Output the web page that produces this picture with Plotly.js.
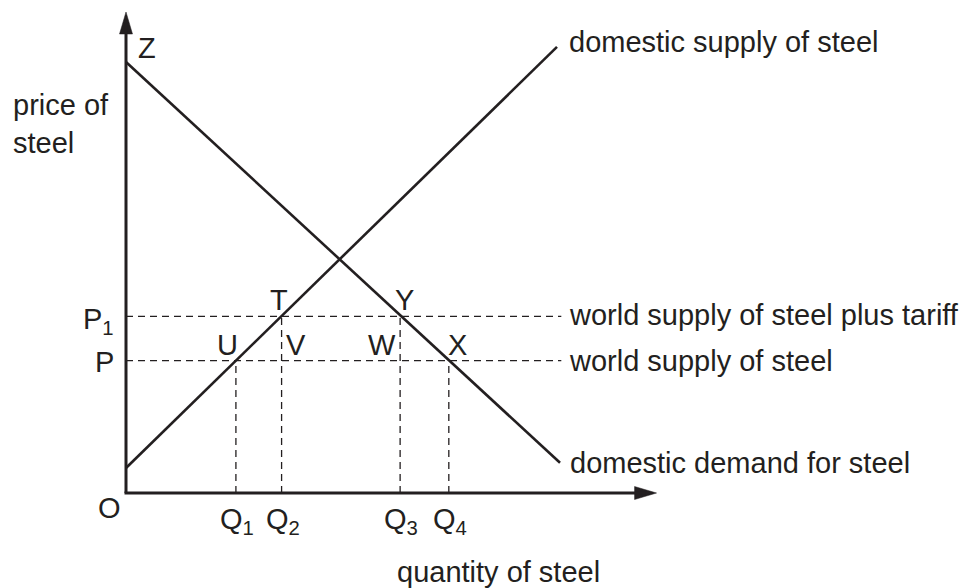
<!DOCTYPE html>
<html><head><meta charset="utf-8">
<script src="https://cdn.plot.ly/plotly-3.0.1.min.js"></script>
<style>html,body{margin:0;padding:0;background:#fff}</style>
</head><body><div id="chart" style="width:964px;height:588px"></div>
<script>
// ---- data (economic units) ----
const supplyQ = [0, 10];
const supplyP = [0.58, 10.35];
const demandQ = [0, 10.07];
const demandP = [10, 0.70];
const priceLevels = [3.07, 4.10];              // P, P1
const priceLabels = ['P', 'P<sub>1</sub>'];
const quantities = [2.55, 3.61, 6.36, 7.49];   // Q1..Q4
const quantityLabels = ['Q<sub>1</sub>', 'Q<sub>2</sub>', 'Q<sub>3</sub>', 'Q<sub>4</sub>'];
const pointLabels = ['U', 'V', 'W', 'X', 'T', 'Y'];
const lineLabels = ['domestic supply of steel', 'world supply of steel plus tariff', 'world supply of steel', 'domestic demand for steel'];
const axisLabels = ['price of<br>steel', 'quantity of steel', 'O', 'Z'];
const axisMax = [12.31, 11.16];  // x tip, y tip
const worldLineEnd = 10.1;

// ---- styling / geometry ----
const INK = '#231f20';
const FONT = 'Liberation Sans, Arial, Helvetica, sans-serif';
const FS = 29;
const PX = 43.1;   // pixels per unit (same on both axes)
const W = 964, H = 588, OX = 126, OY = 493;

const arrowLen = 22 / PX, arrowHalf = 6.5 / PX;

const traces = [
  {x: supplyQ, y: supplyP, mode: 'lines', line: {color: INK, width: 2.6}, hoverinfo: 'skip'},
  {x: demandQ, y: demandP, mode: 'lines', line: {color: INK, width: 2.6}, hoverinfo: 'skip'},
  // y-axis arrowhead
  {x: [-arrowHalf, 0, arrowHalf, -arrowHalf],
   y: [axisMax[1] - arrowLen, axisMax[1], axisMax[1] - arrowLen, axisMax[1] - arrowLen],
   mode: 'lines', fill: 'toself', fillcolor: INK, line: {color: INK, width: 0.5}, hoverinfo: 'skip'},
  // x-axis arrowhead
  {x: [axisMax[0] - arrowLen, axisMax[0], axisMax[0] - arrowLen, axisMax[0] - arrowLen],
   y: [-arrowHalf, 0, arrowHalf, -arrowHalf],
   mode: 'lines', fill: 'toself', fillcolor: INK, line: {color: INK, width: 0.5}, hoverinfo: 'skip'}
];

const shapes = [];
// axes
shapes.push({type: 'line', xref: 'x', yref: 'y', x0: -1.5 / PX, y0: 0, x1: axisMax[0] - arrowLen / 2, y1: 0, line: {color: INK, width: 3}});
shapes.push({type: 'line', xref: 'x', yref: 'y', x0: 0, y0: 0, x1: 0, y1: axisMax[1] - arrowLen / 2, line: {color: INK, width: 3}});
// horizontal dashed price lines
priceLevels.forEach(p => shapes.push({type: 'line', xref: 'x', yref: 'y', x0: 0, y0: p, x1: worldLineEnd, y1: p,
  line: {color: INK, width: 1.3, dash: '7px,5px'}}));
// vertical dashed quantity lines (Q1,Q4 from P; Q2,Q3 from P1)
const qTop = [priceLevels[0], priceLevels[1], priceLevels[1], priceLevels[0]];
quantities.forEach((q, i) => shapes.push({type: 'line', xref: 'x', yref: 'y', x0: q, y0: 0, x1: q, y1: qTop[i],
  line: {color: INK, width: 1.3, dash: '7px,5px'}}));

const ann = [];
function A(o) { ann.push(Object.assign({showarrow: false, font: {family: FONT, size: FS, color: INK}, borderpad: 0,
  xref: 'x', yref: 'y'}, o)); }

// point labels
const ptQ = [quantities[0], quantities[1], quantities[2], quantities[3], quantities[1], quantities[2]];
const ptP = [priceLevels[0], priceLevels[0], priceLevels[0], priceLevels[0], priceLevels[1], priceLevels[1]];
const ptDx = [-8, 14, -18, 9, -3, 4];
pointLabels.forEach((t, i) => A({text: t, x: ptQ[i], y: ptP[i], xanchor: 'center', yanchor: 'middle', xshift: ptDx[i], yshift: 16}));

// quantity labels
quantities.forEach((q, i) => A({text: quantityLabels[i], x: q, y: 0, xanchor: 'center', yanchor: 'top', xshift: 1, yshift: -9}));
// price labels
priceLevels.forEach((p, i) => A({text: priceLabels[i], x: 0, y: p, xanchor: 'right', yanchor: 'middle', xshift: -11, yshift: i === 1 ? -5 : -1}));

// origin and Z
A({text: axisLabels[2], x: 0, y: 0, xanchor: 'center', yanchor: 'middle', xshift: -17, yshift: -15});
A({text: axisLabels[3], x: 0, y: demandP[0], xanchor: 'left', yanchor: 'middle', xshift: 11, yshift: 14});

// line labels on the right
A({text: lineLabels[0], x: supplyQ[1], y: supplyP[1], xanchor: 'left', yanchor: 'middle', xshift: 11, yshift: 5});
A({text: lineLabels[1], x: worldLineEnd, y: priceLevels[1], xanchor: 'left', yanchor: 'middle', xshift: 7, yshift: 1});
A({text: lineLabels[2], x: worldLineEnd, y: priceLevels[0], xanchor: 'left', yanchor: 'middle', xshift: 7, yshift: 0});
A({text: lineLabels[3], x: demandQ[1], y: demandP[1], xanchor: 'left', yanchor: 'middle', xshift: 9, yshift: 0});

// axis titles
ann.push({text: axisLabels[0], xref: 'paper', yref: 'paper', x: 12 / W, y: 1 - 124 / H, xanchor: 'left', yanchor: 'middle',
  align: 'left', showarrow: false, borderpad: 0, font: {family: FONT, size: FS, color: INK}});
ann.push({text: axisLabels[1], xref: 'paper', yref: 'paper', x: 498 / W, y: 1 - 572 / H, xanchor: 'center', yanchor: 'middle',
  showarrow: false, borderpad: 0, font: {family: FONT, size: FS, color: INK}});

const layout = {
  width: W, height: H,
  margin: {l: 0, r: 0, t: 0, b: 0, pad: 0},
  paper_bgcolor: '#ffffff', plot_bgcolor: '#ffffff',
  showlegend: false,
  xaxis: {range: [-OX / PX, (W - OX) / PX], visible: false, fixedrange: true},
  yaxis: {range: [-(H - OY) / PX, OY / PX], visible: false, fixedrange: true},
  shapes: shapes,
  annotations: ann
};

Plotly.newPlot('chart', traces, layout, {staticPlot: true, displayModeBar: false});
</script>
</body></html>
